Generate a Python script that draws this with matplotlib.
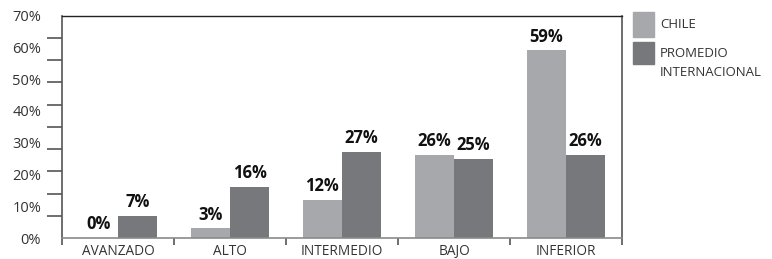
import matplotlib
matplotlib.use("Agg")
import matplotlib.pyplot as plt
import numpy as np
from matplotlib.patches import Rectangle

categories = ["AVANZADO", "ALTO", "INTERMEDIO", "BAJO", "INFERIOR"]
chile = [0, 3, 12, 26, 59]
promedio = [7, 16, 27, 25, 26]
series_names = ["CHILE", "PROMEDIO\nINTERNACIONAL"]
ytick_labels = ["0%", "10%", "20%", "30%", "40%", "50%", "60%", "70%"]

plt.rcParams['font.family'] = ['Open Sans', 'DejaVu Sans']

W, H = 772, 259
fig = plt.figure(figsize=(W/100, H/100), dpi=100)
ax = fig.add_axes([62/W, 1-238/H, 560/W, (238-15.5)/H])

c_light = "#a7a8ab"
c_dark = "#77787b"
bw = 0.35
x = np.arange(len(categories))
b1 = ax.bar(x - bw/2, chile, bw, color=c_light)
b2 = ax.bar(x + bw/2, promedio, bw, color=c_dark)

for bars, vals in ((b1, chile), (b2, promedio)):
    for r, v in zip(bars, vals):
        ax.annotate(f"{v}%", (r.get_x() + r.get_width()/2, v), xytext=(0, 3.5),
                    textcoords="offset points", ha="center", va="bottom",
                    fontsize=12, fontweight="bold", color="#111111")

ax.set_xlim(-0.5, len(categories) - 0.5)
ax.set_ylim(0, 70)

ax.set_yticks(np.arange(0, 71, 10))
ax.set_yticklabels(ytick_labels, fontsize=10.5, color="#333333")
ax.tick_params(axis="y", which="major", length=0, pad=15)
ax.set_yticks(np.arange(0, 71, 7), minor=True)
ax.tick_params(axis="y", which="minor", length=11, width=1.2, color="#555555", direction="out")

ax.set_xticks(x)
ax.set_xticklabels(categories, fontsize=9.8, color="#333333")
ax.tick_params(axis="x", which="major", length=0, pad=4)
ax.set_xticks(np.arange(-0.5, len(categories), 1), minor=True)
ax.tick_params(axis="x", which="minor", length=5, width=1.2, color="#555555", direction="out")

for s in ("left", "right"):
    ax.spines[s].set_color("#555555")
    ax.spines[s].set_linewidth(1.2)
ax.spines["top"].set_color("#222222")
ax.spines["top"].set_linewidth(1.0)
ax.spines["bottom"].set_color("#8a8a8a")
ax.spines["bottom"].set_linewidth(1.2)

# legend drawn manually in figure pixel coordinates
leg_y = [(12, 37), (42, 64)]
text_y = [25, 47]
for (y0, y1), c, name, ty in zip(leg_y, (c_light, c_dark), series_names, text_y):
    fig.patches.append(Rectangle((633/W, 1-y1/H), 21/W, (y1-y0)/H,
                                 transform=fig.transFigure, color=c))
    fig.text(660/W, 1-ty/H, name, fontsize=9.5, color="#333333",
             va="center" if "\n" not in name else "top", ha="left",
             linespacing=1.65)

fig.savefig("out.png", dpi=100)
